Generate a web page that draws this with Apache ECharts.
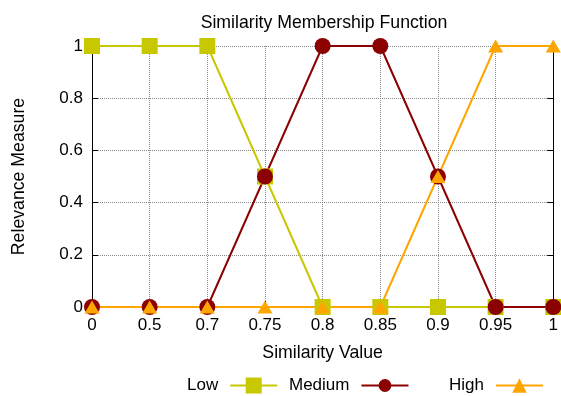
<!DOCTYPE html>
<html><head><meta charset="utf-8">
<script src="https://cdn.jsdelivr.net/npm/echarts@6/dist/echarts.min.js"></script>
<style>html,body{margin:0;padding:0;background:#fff}#c{width:561px;height:396px}</style>
</head><body><div id="c"></div>
<script>
const categories = ['0','0.5','0.7','0.75','0.8','0.85','0.9','0.95','1'];
const lowValues = [1,1,1,0.5,0,0,0,0,0];
const mediumValues = [0,0,0,0.5,1,1,0.5,0,0];
const highValues = [0,0,0,0,0,0,0.5,1,1];
const seriesNames = ['Low','Medium','High'];
const colors = ['#c8c800','#8b0000','#ffa500'];

const FONT = 'Liberation Sans, Arial, sans-serif';
const FS = 17;
const FSN = 17.7;
const chart = echarts.init(document.getElementById('c'), null, {renderer:'canvas'});
const grid = {left:92, right:7, top:46, bottom:89};
function legendFor(i, left, h){
  return {
    data:[seriesNames[i]], left:left, top:377, align:'right', orient:'horizontal',
    itemWidth:47, itemHeight:h, padding:0,
    textStyle:{fontFamily:FONT, fontSize:FS, color:'#000', padding:[0,7,0,0]}
  };
}
const option = {
  animation:false,
  color:colors,
  title:{text:'Similarity Membership Function', left:319, textAlign:'center', top:9, textStyle:{fontFamily:FONT, fontSize:FSN, fontWeight:'normal', color:'#000'}},
  grid:grid,
  legend:[legendFor(0,187,20), legendFor(1,289,16), legendFor(2,449,18)],
  xAxis:[{
    type:'category', data:categories, boundaryGap:false,
    name:'Similarity Value', nameLocation:'middle', nameGap:37,
    nameTextStyle:{fontFamily:FONT, fontSize:FSN, color:'#000'},
    axisLine:{lineStyle:{color:'#000', width:1}},
    axisTick:{inside:true, length:6, lineStyle:{color:'#000'}, alignWithLabel:true},
    axisLabel:{fontFamily:FONT, fontSize:FS, color:'#000', margin:10, interval:0},
    splitLine:{show:true, lineStyle:{color:'#888', type:'dotted', width:1}}
  },{
    type:'category', data:categories, boundaryGap:false, position:'top',
    axisLine:{lineStyle:{color:'#000', width:1}},
    axisTick:{inside:true, length:6, lineStyle:{color:'#000'}},
    axisLabel:{show:false}, splitLine:{show:false}
  }],
  yAxis:[{
    type:'value', min:0, max:1, interval:0.2,
    name:'Relevance Measure', nameLocation:'middle', nameGap:64, nameRotate:90,
    nameTextStyle:{fontFamily:FONT, fontSize:FSN, color:'#000'},
    axisLine:{show:true, lineStyle:{color:'#000', width:1}},
    axisTick:{show:true, inside:true, length:6, lineStyle:{color:'#000'}},
    axisLabel:{fontFamily:FONT, fontSize:FS, color:'#000', margin:9},
    splitLine:{show:true, lineStyle:{color:'#888', type:'dotted', width:1}}
  },{
    type:'value', min:0, max:1, interval:0.2, position:'right',
    axisLine:{show:true, lineStyle:{color:'#000', width:1}},
    axisTick:{show:true, inside:true, length:6, lineStyle:{color:'#000'}},
    axisLabel:{show:false}, splitLine:{show:false}
  }],
  series:[
    {name:seriesNames[0], type:'line', data:lowValues, symbol:'rect', symbolSize:16, showAllSymbol:true, clip:false,
      lineStyle:{width:2, color:colors[0]}, itemStyle:{color:colors[0]}},
    {name:seriesNames[1], type:'line', data:mediumValues, symbol:'circle', symbolSize:16, showAllSymbol:true, clip:false,
      lineStyle:{width:2, color:colors[1]}, itemStyle:{color:colors[1]}},
    {name:seriesNames[2], type:'line', data:highValues, symbol:'triangle', symbolSize:[15,13], showAllSymbol:true, clip:false,
      lineStyle:{width:2, color:colors[2]}, itemStyle:{color:colors[2]}}
  ]
};
chart.setOption(option);
</script></body></html>
